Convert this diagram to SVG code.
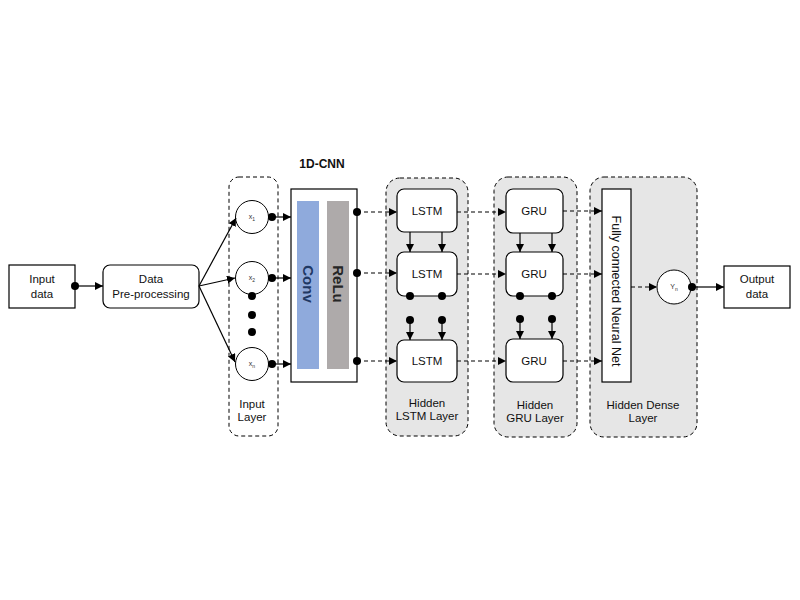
<svg xmlns="http://www.w3.org/2000/svg" width="800" height="600" viewBox="0 0 800 600">
<defs>
<marker id="arr" viewBox="0 0 10 10" refX="10" refY="5" markerWidth="8" markerHeight="8" markerUnits="userSpaceOnUse" orient="auto">
<path d="M0,0 L10,5 L0,10 z" fill="#000"/>
</marker>
<style>
.t{font-family:"Liberation Sans",Arial,sans-serif;font-size:11.5px;fill:#111;text-anchor:middle}
.s{font-family:"Liberation Sans",Arial,sans-serif;font-size:7px;fill:#333;text-anchor:middle}
.box{fill:#fff;stroke:#000;stroke-width:1.2}
.layer{fill:#e6e6e6;stroke:#000;stroke-width:1;stroke-dasharray:4,3}
.layerw{fill:#fff;stroke:#000;stroke-width:1;stroke-dasharray:4,3}
.c{fill:#fff;stroke:#000;stroke-width:1}
.solid{stroke:#000;stroke-width:1.2;fill:none;marker-end:url(#arr)}
.dash{stroke:#000;stroke-width:1.2;fill:none;stroke-dasharray:4,3;marker-end:url(#arr)}
.dot{fill:#000}
</style>
</defs>
<rect width="800" height="600" fill="#fff"/>

<g id="layers">
<rect id="input-layer" class="layerw" x="229" y="177" width="49" height="259" rx="10"/>
<text class="t" x="252" y="408">Input</text>
<text class="t" x="252" y="421">Layer</text>
<rect id="lstm-layer" class="layer" x="386" y="178" width="82" height="258" rx="14"/>
<text class="t" x="427" y="407">Hidden</text>
<text class="t" x="427" y="420">LSTM Layer</text>
<rect id="gru-layer" class="layer" x="494" y="177" width="83" height="260" rx="14"/>
<text class="t" x="535" y="409">Hidden</text>
<text class="t" x="535" y="422">GRU Layer</text>
<rect id="dense-layer" class="layer" x="590" y="177" width="107" height="260" rx="14"/>
<text class="t" x="643" y="409">Hidden Dense</text>
<text class="t" x="643" y="422">Layer</text>
</g>

<g id="input-data">
<rect class="box" x="9" y="265" width="66" height="43"/>
<text class="t" x="42" y="283">Input</text>
<text class="t" x="42" y="298">data</text>
</g>

<g id="preprocessing">
<rect class="box" x="103" y="265" width="96" height="43" rx="7"/>
<text class="t" x="151" y="283">Data</text>
<text class="t" x="151" y="298">Pre-processing</text>
</g>

<g id="x1"><circle class="c" cx="252" cy="217" r="16.5"/><text class="s" x="252" y="219">x<tspan font-size="5" dy="1.5">1</tspan></text></g>
<g id="x2"><circle class="c" cx="252" cy="278" r="16.5"/><text class="s" x="252" y="280">x<tspan font-size="5" dy="1.5">2</tspan></text></g>
<g id="xn"><circle class="c" cx="252" cy="364" r="16.5"/><text class="s" x="252" y="366">x<tspan font-size="5" dy="1.5">n</tspan></text></g>
<g id="ellipsis">
<circle class="dot" cx="252" cy="296" r="4"/>
<circle class="dot" cx="252" cy="315" r="4"/>
<circle class="dot" cx="252" cy="332" r="4"/>
</g>

<g id="cnn">
<text x="322" y="168" style="font-family:'Liberation Sans',Arial,sans-serif;font-size:12px;font-weight:bold;fill:#111;text-anchor:middle">1D-CNN</text>
<rect class="box" x="291" y="189" width="66" height="193"/>
<rect x="297" y="201" width="22" height="168" fill="#8faadc"/>
<rect x="327" y="201" width="22" height="168" fill="#aeaaaa"/>
<text transform="translate(308,284) rotate(90)" style="font-family:'Liberation Sans',Arial,sans-serif;font-size:15px;font-weight:bold;fill:#1f3864;text-anchor:middle" y="5">Conv</text>
<text transform="translate(338,284) rotate(90)" style="font-family:'Liberation Sans',Arial,sans-serif;font-size:15px;font-weight:bold;fill:#262626;text-anchor:middle" y="5">ReLu</text>
</g>

<g id="lstm1"><rect class="box" x="397" y="189" width="60" height="43" rx="7"/><text class="t" x="427" y="215">LSTM</text></g>
<g id="lstm2"><rect class="box" x="397" y="252" width="60" height="44" rx="7"/><text class="t" x="427" y="278">LSTM</text></g>
<g id="lstm3"><rect class="box" x="397" y="340" width="60" height="42" rx="7"/><text class="t" x="427" y="365">LSTM</text></g>

<g id="gru1"><rect class="box" x="506" y="189" width="57" height="44" rx="7"/><text class="t" x="534" y="215">GRU</text></g>
<g id="gru2"><rect class="box" x="506" y="252" width="57" height="44" rx="7"/><text class="t" x="534" y="278">GRU</text></g>
<g id="gru3"><rect class="box" x="506" y="339" width="57" height="43" rx="7"/><text class="t" x="534" y="365">GRU</text></g>

<g id="fc">
<rect class="box" x="602" y="189" width="29" height="193"/>
<text class="t" style="font-size:12.5px" transform="translate(616,291) rotate(90)" y="4">Fully connected Neural Net</text>
</g>

<g id="yn"><circle class="c" cx="674" cy="287" r="17"/><text class="s" x="674" y="289">Y<tspan font-size="5" dy="1.5">n</tspan></text></g>

<g id="output-data">
<rect class="box" x="724" y="266" width="66" height="42"/>
<text class="t" x="757" y="283">Output</text>
<text class="t" x="757" y="298">data</text>
</g>

<g id="connectors">
<circle class="dot" cx="75" cy="286" r="4"/>
<line class="solid" x1="75" y1="286" x2="103" y2="286"/>
<line class="solid" x1="199" y1="286" x2="236" y2="218"/>
<line class="solid" x1="199" y1="286" x2="235" y2="278"/>
<line class="solid" x1="199" y1="286" x2="235" y2="362"/>
<circle class="dot" cx="272" cy="217" r="4"/>
<circle class="dot" cx="272" cy="278" r="4"/>
<circle class="dot" cx="272" cy="364" r="4"/>
<line class="solid" x1="272" y1="217" x2="291" y2="217"/>
<line class="solid" x1="272" y1="278" x2="291" y2="278"/>
<line class="solid" x1="272" y1="364" x2="291" y2="364"/>
<circle class="dot" cx="357" cy="212" r="4"/>
<circle class="dot" cx="357" cy="273" r="4"/>
<circle class="dot" cx="357" cy="361" r="4"/>
<line class="dash" x1="357" y1="212" x2="397" y2="212"/>
<line class="dash" x1="357" y1="273" x2="397" y2="273"/>
<line class="dash" x1="357" y1="361" x2="397" y2="361"/>
<line class="solid" x1="410" y1="232" x2="410" y2="252"/>
<line class="solid" x1="442" y1="232" x2="442" y2="252"/>
<circle class="dot" cx="410" cy="296" r="4"/>
<circle class="dot" cx="442" cy="296" r="4"/>
<circle class="dot" cx="410" cy="320" r="4"/>
<circle class="dot" cx="442" cy="320" r="4"/>
<line class="solid" x1="410" y1="320" x2="410" y2="340"/>
<line class="solid" x1="442" y1="320" x2="442" y2="340"/>
<line class="dash" x1="457" y1="212" x2="506" y2="212"/>
<line class="dash" x1="457" y1="274" x2="506" y2="274"/>
<line class="dash" x1="457" y1="361" x2="506" y2="361"/>
<line class="solid" x1="520" y1="233" x2="520" y2="252"/>
<line class="solid" x1="552" y1="233" x2="552" y2="252"/>
<circle class="dot" cx="520" cy="296" r="4"/>
<circle class="dot" cx="552" cy="296" r="4"/>
<circle class="dot" cx="520" cy="319" r="4"/>
<circle class="dot" cx="552" cy="319" r="4"/>
<line class="solid" x1="520" y1="319" x2="520" y2="339"/>
<line class="solid" x1="552" y1="319" x2="552" y2="339"/>
<line class="dash" x1="563" y1="211" x2="602" y2="211"/>
<line class="dash" x1="563" y1="274" x2="602" y2="274"/>
<line class="dash" x1="563" y1="361" x2="602" y2="361"/>
<line class="dash" x1="631" y1="287" x2="657" y2="287" stroke="#555"/>
<circle class="dot" cx="692" cy="287" r="4"/>
<line class="solid" x1="692" y1="287" x2="724" y2="287"/>
</g>
</svg>
